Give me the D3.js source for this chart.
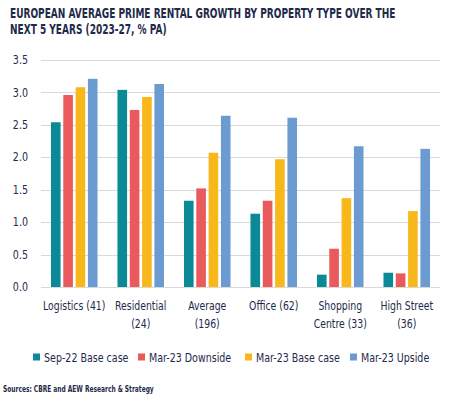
<!DOCTYPE html>
<html lang="en">
<head>
<meta charset="utf-8">
<title>European average prime rental growth</title>
<script src="https://d3js.org/d3.v7.min.js"></script>
<style>
  body { margin: 0; background: #fff; }
  svg { display: block; }
</style>
</head>
<body>
<div id="chart"></div>
<script>
// categories (two-line labels) and series
var categories = [
  ["Logistics (41)"],
  ["Residential", "(24)"],
  ["Average", "(196)"],
  ["Office (62)"],
  ["Shopping", "Centre (33)"],
  ["High Street", "(36)"]
];
var seriesNames = ["Sep-22 Base case", "Mar-23 Downside", "Mar-23 Base case", "Mar-23 Upside"];
var sep22Base  = [2.54, 3.04, 1.33, 1.13, 0.19, 0.22];
var mar23Down  = [2.96, 2.73, 1.52, 1.33, 0.59, 0.21];
var mar23Base  = [3.08, 2.93, 2.07, 1.97, 1.37, 1.17];
var mar23Up    = [3.21, 3.13, 2.64, 2.61, 2.17, 2.13];
var yTicks = [0, 0.5, 1, 1.5, 2, 2.5, 3, 3.5];

var colors = ["#0b8996", "#e85a5c", "#f8b81c", "#6c9bd2"];
var allSeries = [sep22Base, mar23Down, mar23Base, mar23Up];

var width = 460, height = 397;
var navy = "#1e2a4a";
var font = "'DejaVu Sans Condensed', 'DejaVu Sans', sans-serif";

// squeeze text horizontally, the reference uses a narrow DIN-like face
function squeeze(sel, k) {
  sel.each(function() {
    var w = this.getComputedTextLength();
    d3.select(this).attr("textLength", w * k).attr("lengthAdjust", "spacingAndGlyphs");
  });
}

var svg = d3.select("#chart").append("svg")
  .attr("width", width)
  .attr("height", height);

// title - scaled as a group so the first line spans ~386px
var title = svg.append("g")
  .attr("font-family", font)
  .attr("font-weight", "bold")
  .attr("font-size", 13.5)
  .attr("fill", navy);
var t1 = title.append("text").attr("x", 0).attr("y", 0)
  .text("EUROPEAN AVERAGE PRIME RENTAL GROWTH BY PROPERTY TYPE OVER THE");
title.append("text").attr("x", 0).attr("y", 16)
  .text("NEXT 5 YEARS (2023-27, % PA)");
var sx = 386 / t1.node().getComputedTextLength();
title.attr("transform", "translate(10,18) scale(" + sx + ",1)");

// scales
var x0 = d3.scaleBand()
  .domain(d3.range(categories.length))
  .range([41, 440])
  .paddingInner(0.3)
  .paddingOuter(0.15);

var x1 = d3.scaleBand()
  .domain(d3.range(seriesNames.length))
  .range([0, x0.bandwidth()])
  .paddingInner(0.22);

var y = d3.scaleLinear()
  .domain([0, 3.5])
  .range([287, 60]);

// gridlines
svg.append("g")
  .selectAll("line")
  .data(yTicks)
  .join("line")
  .attr("x1", 41).attr("x2", 440)
  .attr("y1", function(d) { return Math.round(y(d)) + 0.5; })
  .attr("y2", function(d) { return Math.round(y(d)) + 0.5; })
  .attr("stroke", "#d9d9d9")
  .attr("stroke-width", 1);

// y axis labels
var yAxis = svg.append("g")
  .attr("transform", "translate(28,0)")
  .call(d3.axisLeft(y).tickValues(yTicks).tickFormat(d3.format(".1f")).tickSize(0).tickPadding(0));
yAxis.select(".domain").remove();
yAxis.selectAll("text")
  .attr("font-family", font)
  .attr("font-size", 11.5)
  .attr("fill", navy)
  .call(squeeze, 0.92);

// bars
var groups = svg.append("g")
  .selectAll("g")
  .data(categories)
  .join("g")
  .attr("transform", function(d, i) { return "translate(" + x0(i) + ",0)"; });

groups.selectAll("rect")
  .data(function(d, i) { return allSeries.map(function(s, j) { return { s: j, v: s[i] }; }); })
  .join("rect")
  .attr("x", function(d) { return x1(d.s); })
  .attr("width", x1.bandwidth())
  .attr("y", function(d) { return y(d.v); })
  .attr("height", function(d) { return y(0) - y(d.v); })
  .attr("fill", function(d) { return colors[d.s]; });

// category labels
var catLabels = svg.append("g")
  .selectAll("text")
  .data(categories)
  .join("text")
  .attr("x", function(d, i) { return x0(i) + x0.bandwidth() / 2; })
  .attr("y", 310)
  .attr("text-anchor", "middle")
  .attr("font-family", font)
  .attr("font-size", 11.5)
  .attr("fill", navy);
catLabels.selectAll("tspan")
  .data(function(d) { return d; })
  .join("tspan")
  .attr("x", function() { return d3.select(this.parentNode).attr("x"); })
  .attr("dy", function(d, i) { return i === 0 ? 0 : 18; })
  .text(function(d) { return d; })
  .call(squeeze, 0.9);

// legend
var legendX = [33, 138, 245, 350];
var legend = svg.append("g")
  .selectAll("g")
  .data(seriesNames)
  .join("g")
  .attr("transform", function(d, i) { return "translate(" + legendX[i] + ",357)"; });
legend.append("rect")
  .attr("x", 0).attr("y", -3.5)
  .attr("width", 7).attr("height", 7)
  .attr("fill", function(d, i) { return colors[i]; });
legend.append("text")
  .attr("x", 11).attr("y", 4.5)
  .attr("font-family", font)
  .attr("font-size", 12)
  .attr("fill", navy)
  .text(function(d) { return d; })
  .call(squeeze, 0.88);

// source
svg.append("text")
  .attr("x", 3).attr("y", 392)
  .attr("font-family", font)
  .attr("font-weight", "bold")
  .attr("font-size", 8)
  .attr("fill", navy)
  .text("Sources: CBRE and AEW Research & Strategy")
  .call(squeeze, 0.82);
</script>
</body>
</html>
